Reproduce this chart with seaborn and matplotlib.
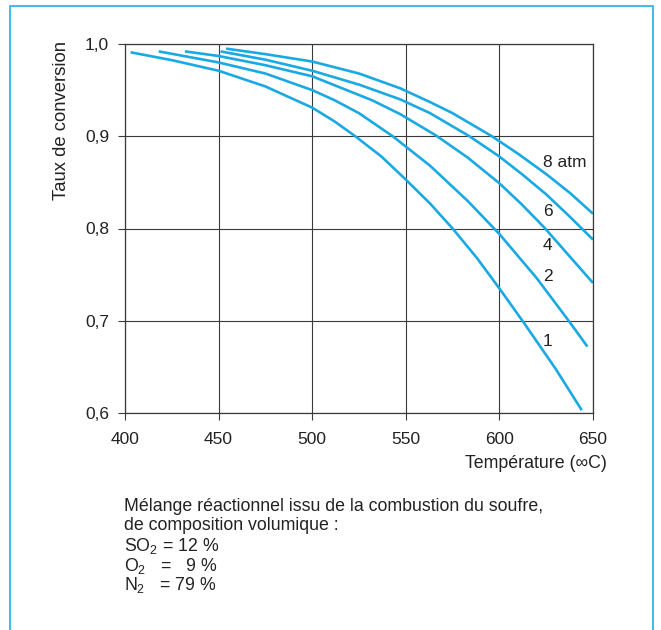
import matplotlib
matplotlib.use("Agg")
import matplotlib.pyplot as plt
from matplotlib.patches import Rectangle
import seaborn as sns
import pandas as pd

# ---- data ----
t_1 = [403, 425, 450, 475, 500, 512, 523, 537, 550, 563, 575, 588, 600, 613, 630, 644]
y_1 = [0.991, 0.9825, 0.971, 0.954, 0.931, 0.916, 0.900, 0.878, 0.853, 0.827, 0.800, 0.768, 0.735, 0.698, 0.648, 0.603]

t_2 = [418, 450, 475, 500, 512, 525, 543, 563, 583, 600, 620, 637, 647]
y_2 = [0.992, 0.980, 0.968, 0.950, 0.939, 0.925, 0.900, 0.868, 0.830, 0.794, 0.746, 0.700, 0.672]

t_4 = [432, 450, 475, 500, 532, 547, 566, 583, 600, 612, 624, 637, 650]
y_4 = [0.992, 0.987, 0.977, 0.965, 0.939, 0.924, 0.901, 0.877, 0.849, 0.826, 0.801, 0.771, 0.741]

t_6 = [451, 475, 500, 525, 547, 563, 584, 600, 612, 625, 637, 650]
y_6 = [0.992, 0.983, 0.971, 0.956, 0.940, 0.925, 0.900, 0.878, 0.859, 0.837, 0.814, 0.788]

t_8 = [454, 475, 500, 525, 547, 563, 575, 596, 610, 625, 638, 650]
y_8 = [0.995, 0.989, 0.981, 0.968, 0.952, 0.937, 0.925, 0.900, 0.881, 0.859, 0.838, 0.816]

curve_labels = ["1", "2", "4", "6", "8 atm"]
label_y = [0.677, 0.748, 0.782, 0.818, 0.872]
label_t = 623.3

x_ticks = [400, 450, 500, 550, 600, 650]
y_ticks = [0.6, 0.7, 0.8, 0.9, 1.0]
y_tick_labels = ["0,6", "0,7", "0,8", "0,9", "1,0"]

note_lines = [
    "Mélange réactionnel issu de la combustion du soufre,",
    "de composition volumique :",
    r"SO$_2$ = 12 %",
    r"O$_2$   =   9 %",
    r"N$_2$   = 79 %",
]

# ---- build table ----
series = [(t_1, y_1, "1"), (t_2, y_2, "2"), (t_4, y_4, "4"), (t_6, y_6, "6"), (t_8, y_8, "8")]
rows = []
for ts, ys, p in series:
    for t, y in zip(ts, ys):
        rows.append({"T": t, "taux": y, "p": p})
df = pd.DataFrame(rows)

sns.set_style("white")
plt.rcParams["font.family"] = ["Liberation Sans", "DejaVu Sans"]
plt.rcParams["mathtext.fontset"] = "custom"
plt.rcParams["mathtext.rm"] = "Liberation Sans"
plt.rcParams["mathtext.it"] = "Liberation Sans"
plt.rcParams["mathtext.default"] = "regular"

W, H = 661, 630
fig = plt.figure(figsize=(W / 100, H / 100), dpi=100)
fig.patch.set_facecolor("white")

ax = fig.add_axes([125 / W, 1 - 413 / H, 468 / W, 369 / H])
blue = "#1AA9E3"
sns.lineplot(data=df, x="T", y="taux", hue="p", units="p", estimator=None,
             palette=[blue] * 5, linewidth=1.9, legend=False, ax=ax, sort=False)
for ln in ax.get_lines():
    ln.set_solid_joinstyle("round")
    ln.set_solid_capstyle("butt")

ax.set_xlim(400, 650)
ax.set_ylim(0.6, 1.0)
ax.set_xticks(x_ticks)
ax.set_xticklabels([str(v) for v in x_ticks])
ax.set_yticks(y_ticks)
ax.set_yticklabels(y_tick_labels)
ax.set_xlabel("")
ax.set_ylabel("")
ax.grid(True, color="#3a3a3a", linewidth=0.8)
ax.set_axisbelow(True)
for s in ax.spines.values():
    s.set_color("#3a3a3a")
    s.set_linewidth(0.9)
ax.tick_params(axis="both", direction="out", length=5, width=0.8, color="#3a3a3a",
               labelsize=12.5, labelcolor="#222222", left=True, bottom=True)
ax.tick_params(axis="x", pad=8.5)
ax.tick_params(axis="y", pad=6.5)

for lab, ly in zip(curve_labels, label_y):
    ax.text(label_t, ly, lab, ha="left", va="center", fontsize=12.5, color="#222222")

fig.text(607 / W, 1 - 463 / H, "Température (∞C)", ha="right", va="center",
         fontsize=12.8, color="#222222")
fig.text(62 / W, 1 - 120 / H, "Taux de conversion", rotation=90, ha="center",
         va="center", fontsize=13.3, color="#222222")

baselines = [511, 530, 551, 571, 590]
for line, b in zip(note_lines, baselines):
    fig.text(124 / W, 1 - b / H, line, ha="left", va="baseline", fontsize=12.8,
             color="#222222")

fig.patches.append(Rectangle((9.5 / W, -0.05), (653 - 9.5) / W, 1.05 - 6 / H,
                             transform=fig.transFigure, fill=False,
                             edgecolor="#33B5E8", linewidth=1.3))

fig.savefig("out.png", dpi=100, facecolor="white")
